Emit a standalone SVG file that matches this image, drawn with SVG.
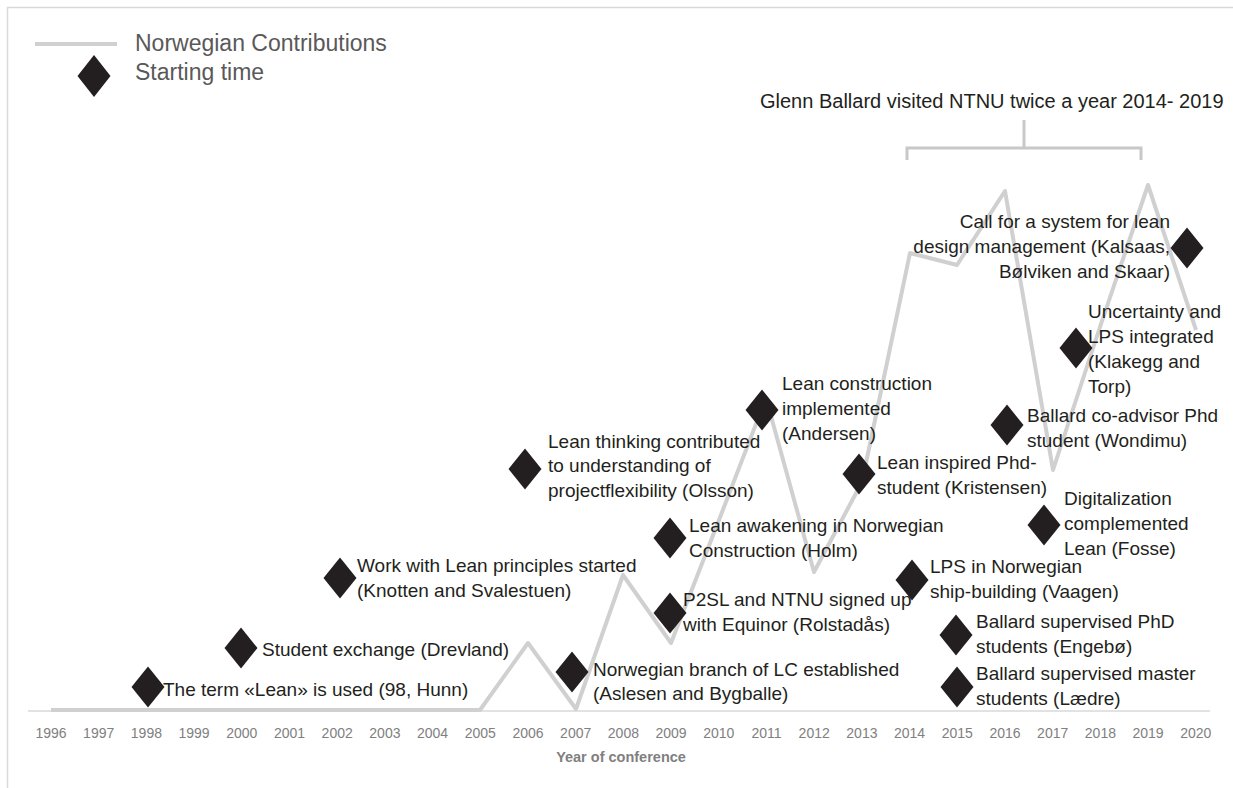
<svg xmlns="http://www.w3.org/2000/svg" width="1233" height="788" viewBox="0 0 1233 788">
<style>
.t{font-family:"Liberation Sans",Arial,sans-serif;font-size:19px;fill:#231f20}
.lg{font-family:"Liberation Sans",Arial,sans-serif;font-size:23px;fill:#595959}
.yr{font-family:"Liberation Sans",Arial,sans-serif;font-size:14px;fill:#808080;text-anchor:middle}
.ttl{font-family:"Liberation Sans",Arial,sans-serif;font-size:14.5px;font-weight:bold;fill:#7f7f7f;text-anchor:middle}
.ser{fill:none;stroke:#d0d0d0;stroke-width:4;stroke-linejoin:round}
.dm{fill:#231f20}
</style>
<defs>
<path id="d" d="M0,-20.5 L16.5,0 L0,20.5 L-16.5,0 Z"/>
</defs>
<rect width="1233" height="788" fill="#ffffff"/>
<path d="M7.5,788 V7.5 H1233" fill="none" stroke="#d9d9d9" stroke-width="1.5"/>
<g id="legend">
<line x1="35" y1="44" x2="117" y2="44" stroke="#d0d0d0" stroke-width="4"/>
<text class="lg" x="135" y="51">Norwegian Contributions</text>
<path class="dm" d="M94,55 L110.5,76 L94,97 L77.5,76 Z"/>
<text class="lg" x="135" y="80">Starting time</text>
</g>
<g id="axis">
<line x1="28" y1="711" x2="1210" y2="711" stroke="#d9d9d9" stroke-width="1.5"/>
<text class="yr" x="51" y="738">1996</text>
<text class="yr" x="98.7" y="738">1997</text>
<text class="yr" x="146.4" y="738">1998</text>
<text class="yr" x="194.1" y="738">1999</text>
<text class="yr" x="241.8" y="738">2000</text>
<text class="yr" x="289.5" y="738">2001</text>
<text class="yr" x="337.2" y="738">2002</text>
<text class="yr" x="384.9" y="738">2003</text>
<text class="yr" x="432.6" y="738">2004</text>
<text class="yr" x="480.3" y="738">2005</text>
<text class="yr" x="528" y="738">2006</text>
<text class="yr" x="575.7" y="738">2007</text>
<text class="yr" x="623.4" y="738">2008</text>
<text class="yr" x="671.1" y="738">2009</text>
<text class="yr" x="718.8" y="738">2010</text>
<text class="yr" x="766.5" y="738">2011</text>
<text class="yr" x="814.2" y="738">2012</text>
<text class="yr" x="861.9" y="738">2013</text>
<text class="yr" x="909.6" y="738">2014</text>
<text class="yr" x="957.3" y="738">2015</text>
<text class="yr" x="1005" y="738">2016</text>
<text class="yr" x="1052.7" y="738">2017</text>
<text class="yr" x="1100.4" y="738">2018</text>
<text class="yr" x="1148.1" y="738">2019</text>
<text class="yr" x="1195.8" y="738">2020</text>
<text class="ttl" x="621" y="762">Year of conference</text>
</g>
<g id="connectors">
<polyline class="ser" points="51,710 480,710 528,643 576,709 623,575 671,643 719,520 766,398 814,572 862,482 910,253 957,265 1005,191 1053,470 1100,327 1148,185 1196,330"/>
</g>
<g id="bracket">
<path d="M907,160 V148 H1141 V160 M1024,148 V120" fill="none" stroke="#c8c8c8" stroke-width="3"/>
<text class="t" x="760" y="108" style="font-size:20px">Glenn Ballard visited NTNU twice a year 2014- 2019</text>
</g>
<g id="n1998">
<use href="#d" class="dm" x="148" y="687"/>
<text class="t" x="163" y="696">The term «Lean» is used (98, Hunn)</text>
</g>
<g id="n2000">
<use href="#d" class="dm" x="241" y="648"/>
<text class="t" x="262" y="656">Student exchange (Drevland)</text>
</g>
<g id="n2002">
<use href="#d" class="dm" x="340" y="578"/>
<text class="t" x="357" y="572">Work with Lean principles started</text>
<text class="t" x="357" y="597">(Knotten and Svalestuen)</text>
</g>
<g id="n2006">
<use href="#d" class="dm" x="525" y="469"/>
<text class="t" x="548" y="448">Lean thinking contributed</text>
<text class="t" x="548" y="472">to understanding of</text>
<text class="t" x="548" y="497">projectflexibility (Olsson)</text>
</g>
<g id="n2011">
<use href="#d" class="dm" x="762" y="410"/>
<text class="t" x="782" y="390">Lean construction</text>
<text class="t" x="782" y="415">implemented</text>
<text class="t" x="782" y="440">(Andersen)</text>
</g>
<g id="n2009a">
<use href="#d" class="dm" x="670" y="538"/>
<text class="t" x="689" y="532">Lean awakening in Norwegian</text>
<text class="t" x="689" y="557">Construction (Holm)</text>
</g>
<g id="n2009b">
<use href="#d" class="dm" x="670" y="613"/>
<text class="t" x="683" y="606">P2SL and NTNU signed up</text>
<text class="t" x="683" y="631">with Equinor (Rolstadås)</text>
</g>
<g id="n2007">
<use href="#d" class="dm" x="572" y="672"/>
<text class="t" x="593" y="676">Norwegian branch of LC established</text>
<text class="t" x="593" y="700">(Aslesen and Bygballe)</text>
</g>
<g id="n2013">
<use href="#d" class="dm" x="859" y="474"/>
<text class="t" x="877" y="469">Lean inspired Phd-</text>
<text class="t" x="877" y="494">student (Kristensen)</text>
</g>
<g id="n2014">
<use href="#d" class="dm" x="912" y="580"/>
<text class="t" x="930" y="573">LPS in Norwegian</text>
<text class="t" x="930" y="598">ship-building (Vaagen)</text>
</g>
<g id="n2015a">
<use href="#d" class="dm" x="956" y="635"/>
<text class="t" x="976" y="628">Ballard supervised PhD</text>
<text class="t" x="976" y="653">students (Engebø)</text>
</g>
<g id="n2015b">
<use href="#d" class="dm" x="957" y="687"/>
<text class="t" x="976" y="680">Ballard supervised master</text>
<text class="t" x="976" y="705">students (Lædre)</text>
</g>
<g id="n2016">
<use href="#d" class="dm" x="1007" y="425"/>
<text class="t" x="1027" y="422">Ballard co-advisor Phd</text>
<text class="t" x="1027" y="447">student (Wondimu)</text>
</g>
<g id="n2017">
<use href="#d" class="dm" x="1044" y="525"/>
<text class="t" x="1064" y="505">Digitalization</text>
<text class="t" x="1064" y="530">complemented</text>
<text class="t" x="1064" y="555">Lean (Fosse)</text>
</g>
<g id="n2018">
<use href="#d" class="dm" x="1076" y="348"/>
<text class="t" x="1088" y="318">Uncertainty and</text>
<text class="t" x="1088" y="343">LPS integrated</text>
<text class="t" x="1088" y="368">(Klakegg and</text>
<text class="t" x="1088" y="393">Torp)</text>
</g>
<g id="n2020">
<use href="#d" class="dm" x="1187" y="248"/>
<text class="t" x="1170" y="228" text-anchor="end">Call for a system for lean</text>
<text class="t" x="1170" y="253" text-anchor="end">design management (Kalsaas,</text>
<text class="t" x="1170" y="278" text-anchor="end">Bølviken and Skaar)</text>
</g>
</svg>
